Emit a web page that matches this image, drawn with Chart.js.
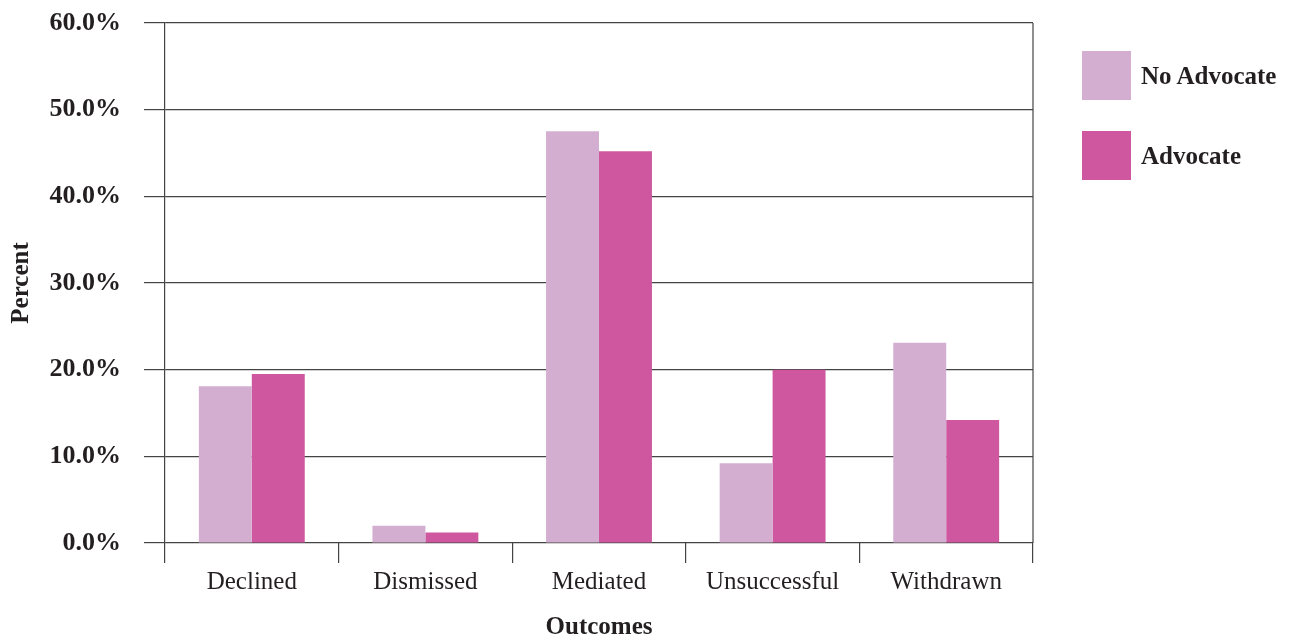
<!DOCTYPE html>
<html>
<head>
<meta charset="utf-8">
<title>Outcomes by Advocate Status</title>
<script src="https://cdn.jsdelivr.net/npm/chart.js@4.4.1/dist/chart.umd.min.js"></script>
<style>
  html, body { margin: 0; padding: 0; background: #ffffff; }
  #wrap { position: relative; width: 1290px; height: 643px; }
  #chart { position: absolute; left: 0; top: 0; }
  .legend { position: absolute; left: 1082px; top: 51px; font: bold 25px "Liberation Serif", serif; color: #231f20; }
  .legend .item { display: flex; align-items: center; height: 49px; margin-bottom: 31px; }
  .legend .swatch { width: 49px; height: 49px; margin-right: 10px; }
</style>
</head>
<body>
<div id="wrap">
  <canvas id="chart" width="1290" height="643"></canvas>
  <div class="legend" id="legend"></div>
</div>
<script>
// Outcome categories and the share of cases (percent) in each
const categories = ['Declined', 'Dismissed', 'Mediated', 'Unsuccessful', 'Withdrawn'];
const noAdvocate = [18.1, 2.0, 47.5, 9.2, 23.1];
const advocate   = [19.5, 1.2, 45.2, 20.0, 14.2];
const seriesNames = ['No Advocate', 'Advocate'];
const seriesColors = ['#d4aed0', '#ce579f'];
const yMin = 0, yMax = 60, yStep = 10;

const serif = '"Liberation Serif", "Times New Roman", serif';
const ink = '#231f20';
const lineColor = '#444444';

// Closes the plot frame on the right-hand side
const rightFrame = {
  id: 'rightFrame',
  afterDraw(chart) {
    const { ctx, chartArea } = chart;
    ctx.save();
    ctx.strokeStyle = lineColor;
    ctx.lineWidth = 1.2;
    ctx.beginPath();
    ctx.moveTo(chartArea.right, chartArea.top);
    ctx.lineTo(chartArea.right, chartArea.bottom);
    ctx.stroke();
    ctx.restore();
  }
};

new Chart(document.getElementById('chart'), {
  type: 'bar',
  data: {
    labels: categories,
    datasets: [
      { label: seriesNames[0], data: noAdvocate, backgroundColor: seriesColors[0] },
      { label: seriesNames[1], data: advocate, backgroundColor: seriesColors[1] }
    ]
  },
  options: {
    responsive: false,
    animation: false,
    devicePixelRatio: 1,
    layout: { padding: { top: 23, right: 257, bottom: 0, left: 0 } },
    datasets: { bar: { categoryPercentage: 0.61, barPercentage: 1.0, borderWidth: 0 } },
    plugins: { legend: { display: false }, tooltip: { enabled: false } },
    scales: {
      x: {
        afterFit(scale) { scale.height = 100; },
        grid: { offset: true, drawOnChartArea: false, drawTicks: true, tickLength: 20, color: lineColor, lineWidth: 1.2 },
        border: { display: false },
        ticks: { font: { family: serif, size: 25 }, color: ink, padding: 4 },
        title: { display: true, text: 'Outcomes', font: { family: serif, size: 25, weight: 'bold' }, color: ink, padding: { top: 0, bottom: 0 } }
      },
      y: {
        min: yMin, max: yMax,
        afterFit(scale) {
          scale.width = 165;
          // the outer layout padding already leaves room for the end labels
          scale.paddingTop = 0;
          scale.paddingBottom = 0;
        },
        grid: { color: lineColor, lineWidth: 1.2, tickLength: 21, drawTicks: true },
        border: { display: true, color: lineColor, width: 1.2 },
        ticks: {
          stepSize: yStep,
          padding: 23,
          font: { family: serif, size: 26, weight: 'bold' },
          color: ink,
          callback: v => v.toFixed(1) + '%'
        },
        title: { display: true, text: 'Percent', font: { family: serif, size: 25, weight: 'bold' }, color: ink, padding: { top: 7, bottom: 0 } }
      }
    }
  },
  plugins: [rightFrame]
});

// Legend entries built from the series names and colours
const legend = document.getElementById('legend');
seriesNames.forEach((name, i) => {
  const item = document.createElement('div');
  item.className = 'item';
  const sw = document.createElement('div');
  sw.className = 'swatch';
  sw.style.background = seriesColors[i];
  const label = document.createElement('span');
  label.textContent = name;
  item.appendChild(sw);
  item.appendChild(label);
  legend.appendChild(item);
});
</script>
</body>
</html>
